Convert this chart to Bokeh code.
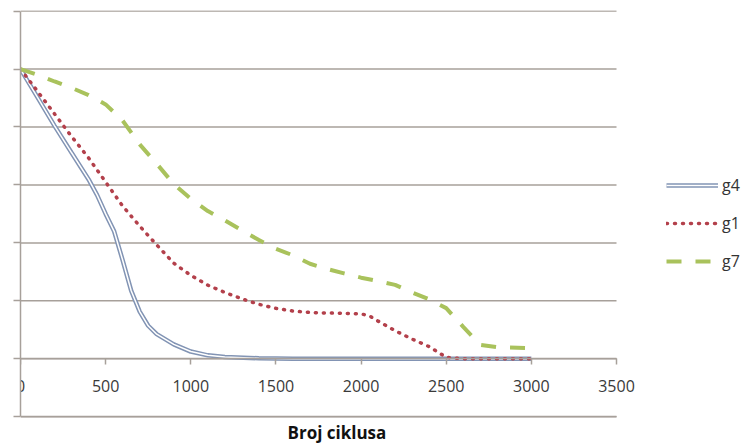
from bokeh.plotting import figure
from bokeh.models import LinearAxis, FixedTicker, Legend, LegendItem, Title, Range1d
from bokeh.embed import file_html
from bokeh.resources import INLINE

# ---- data ----
x_ticks = [0, 500, 1000, 1500, 2000, 2500, 3000, 3500]
y_ticks = [-0.2, 0.0, 0.2, 0.4, 0.6, 0.8, 1.0, 1.2]

cycles_g4 = [0, 100, 200, 300, 400, 450, 500, 550, 600, 650, 700, 750, 800, 900,
             1000, 1100, 1200, 1400, 1600, 2000, 2500, 3000]
g4 = [1.0, 0.902, 0.804, 0.711, 0.619, 0.565, 0.50, 0.44, 0.34, 0.235, 0.163, 0.114,
      0.085, 0.05, 0.025, 0.012, 0.006, 0.002, 0.0, 0.0, 0.0, 0.0]

cycles_g1 = [0, 100, 200, 300, 400, 500, 600, 700, 800, 900, 1000, 1100, 1200, 1300,
             1400, 1500, 1600, 1700, 1800, 1900, 2000, 2050, 2100, 2200, 2300, 2400,
             2500, 2600, 2800, 3000]
g1 = [1.0, 0.923, 0.845, 0.767, 0.693, 0.61, 0.527, 0.458, 0.393, 0.33, 0.288, 0.254,
      0.229, 0.207, 0.188, 0.174, 0.165, 0.16, 0.158, 0.157, 0.155, 0.148, 0.13, 0.097,
      0.068, 0.042, 0.005, 0.0, 0.0, 0.0]

cycles_g7 = [0, 100, 200, 300, 400, 500, 600, 700, 800, 900, 1000, 1100, 1200, 1300,
             1400, 1500, 1600, 1700, 1800, 1900, 2000, 2100, 2200, 2300, 2400, 2500,
             2600, 2700, 2800, 3000]
g7 = [1.0, 0.98, 0.957, 0.935, 0.91, 0.878, 0.822, 0.74, 0.673, 0.603, 0.552, 0.51,
      0.478, 0.443, 0.41, 0.38, 0.357, 0.328, 0.31, 0.295, 0.28, 0.268, 0.255, 0.229,
      0.205, 0.175, 0.11, 0.048, 0.04, 0.037]

x_title = "Broj ciklusa"

GRID = "#a7a09a"
FONT = "Open Sans"

X_MAX = x_ticks[-1]
# plot area spans 0..3500 over 596 px; the frame is widened to the right edge
# (725 px) so that the legend can sit beside the plot area
X_VIEW_END = X_MAX * 725 / 596

p = figure(width=745, height=443, output_backend="svg", toolbar_location=None,
           x_range=Range1d(0, X_VIEW_END), y_range=Range1d(-0.206, 1.202),
           x_axis_location=None, min_border=0,
           min_border_left=20, min_border_right=0, min_border_top=10,
           min_border_bottom=24)
p.outline_line_color = None
p.background_fill_color = "white"
p.border_fill_color = "white"
p.xgrid.visible = False
p.ygrid.visible = False

# y axis (no labels, outside ticks)
p.yaxis.ticker = FixedTicker(ticks=y_ticks)
p.yaxis.bounds = (y_ticks[0], y_ticks[-1])
p.yaxis.major_label_text_font_size = "0px"
p.yaxis.major_label_standoff = 0
p.yaxis.major_tick_out = 7
p.yaxis.major_tick_in = 0
p.yaxis.minor_tick_line_color = None
p.yaxis.axis_line_color = GRID
p.yaxis.axis_line_width = 1.5
p.yaxis.major_tick_line_color = GRID
p.yaxis.major_tick_line_width = 1.5

# horizontal gridlines limited to the plot area (0..3500)
grid_y = y_ticks[::-1]
p.segment(x0=[0] * len(grid_y), y0=grid_y, x1=[X_MAX] * len(grid_y), y1=grid_y,
          line_color=GRID, line_width=1.5, level="underlay")

# lowest gridline as a bare axis line (not clipped at the frame edge)
bottom_line = LinearAxis(fixed_location=y_ticks[0], ticker=FixedTicker(ticks=[]),
                         bounds=(0, X_MAX))
bottom_line.axis_line_color = GRID
bottom_line.axis_line_width = 1.5
bottom_line.major_tick_line_color = None
bottom_line.minor_tick_line_color = None
p.add_layout(bottom_line, "below")

# x axis crossing at y = 0
xa = LinearAxis(fixed_location=0, ticker=FixedTicker(ticks=x_ticks), bounds=(0, X_MAX))
xa.major_tick_out = 6
xa.major_tick_in = 0
xa.minor_tick_line_color = None
xa.axis_line_color = GRID
xa.axis_line_width = 1.5
xa.major_tick_line_color = GRID
xa.major_tick_line_width = 1.5
xa.major_label_standoff = 15
xa.major_label_text_font = FONT
xa.major_label_text_font_size = "16px"
xa.major_label_text_color = "#3a3a3a"
p.add_layout(xa, "below")

# series
r4a = p.line(cycles_g4, g4, line_color="#8294b4", line_width=4.5)
r4b = p.line(cycles_g4, g4, line_color="white", line_width=1.5)
r1 = p.line(cycles_g1, g1, line_color="#b3404b", line_width=3.5,
            line_dash="1 7", line_cap="round")
r7 = p.line(cycles_g7, g7, line_color="#a9c25c", line_width=4,
            line_dash="15 14")

legend = Legend(items=[LegendItem(label="g4", renderers=[r4a, r4b]),
                       LegendItem(label="g1", renderers=[r1]),
                       LegendItem(label="g7", renderers=[r7])],
                location=(646, 146))
legend.background_fill_alpha = 0
legend.border_line_color = None
legend.padding = 0
legend.margin = 0
legend.spacing = 16
legend.glyph_width = 52
legend.glyph_height = 20
legend.label_height = 20
legend.label_standoff = 4
legend.label_text_font = FONT
legend.label_text_font_size = "16px"
legend.label_text_color = "#333333"
p.add_layout(legend)

title = Title(text=x_title, align="left", offset=267, standoff=0,
              text_font=FONT, text_font_style="bold", text_font_size="17px",
              text_color="#111111")
p.add_layout(title, "below")

open("out.html", "w").write(file_html(p, INLINE))
